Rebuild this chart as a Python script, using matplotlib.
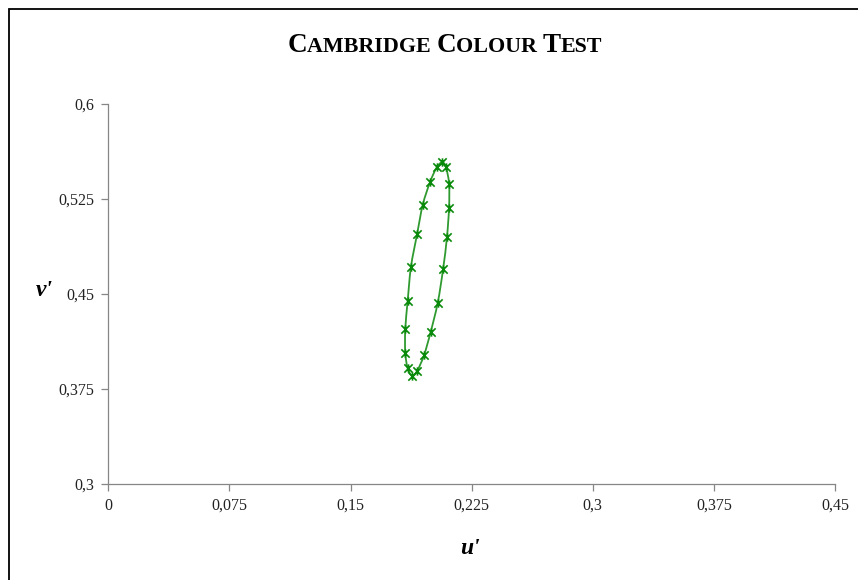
import numpy as np
import matplotlib
matplotlib.use("Agg")
import matplotlib.pyplot as plt
from matplotlib.path import Path
from matplotlib.patches import PathPatch, Rectangle

# chromaticity points of the test ellipse (u', v'), in drawing order
u_vals = [0.1882, 0.1913, 0.1955, 0.1996, 0.2040, 0.2073, 0.2097, 0.2110, 0.2110, 0.2091,
          0.2068, 0.2034, 0.1992, 0.1947, 0.1912, 0.1874, 0.1854, 0.1839, 0.1839, 0.1854]
v_vals = [0.3852, 0.3893, 0.4015, 0.4198, 0.4429, 0.4693, 0.4945, 0.5179, 0.5368, 0.5497,
          0.5536, 0.5497, 0.5379, 0.5200, 0.4969, 0.4711, 0.4445, 0.4220, 0.4035, 0.3912]

x_ticks = [0, 0.075, 0.15, 0.225, 0.3, 0.375, 0.45]
x_labels = ["0", "0,075", "0,15", "0,225", "0,3", "0,375", "0,45"]
y_ticks = [0.3, 0.375, 0.45, 0.525, 0.6]
y_labels = ["0,3", "0,375", "0,45", "0,525", "0,6"]

title_parts = [("C", True), ("AMBRIDGE ", False), ("C", True), ("OLOUR ", False),
               ("T", True), ("EST", False)]

SERIF = "Liberation Serif"
W, H = 858, 580

fig = plt.figure(figsize=(W / 100, H / 100), dpi=100)
fig.patch.set_facecolor("white")

# outer chart frame (runs off the right and bottom edge)
fig.patches.append(Rectangle((9 / W, -0.05), 1.2, (H - 9) / H + 0.05,
                             transform=fig.transFigure, fill=False,
                             edgecolor="black", linewidth=1.3))

ax = fig.add_axes([108.3 / W, (H - 484) / H, (835 - 108.3) / W, (484 - 103.5) / H])
ax.set_xlim(0, 0.45)
ax.set_ylim(0.3, 0.6)
ax.set_facecolor("none")

for side in ("top", "right"):
    ax.spines[side].set_visible(False)
for side in ("left", "bottom"):
    ax.spines[side].set_color("#868686")
    ax.spines[side].set_linewidth(0.9)

ax.set_xticks(x_ticks)
ax.set_xticklabels(x_labels)
ax.set_yticks(y_ticks)
ax.set_yticklabels(y_labels)
ax.tick_params(direction="out", length=5, width=0.9, color="#868686",
               labelsize=11.5, labelcolor="#222222")
ax.tick_params(axis="x", pad=5)
ax.tick_params(axis="y", pad=5)
for lab in ax.get_xticklabels() + ax.get_yticklabels():
    lab.set_fontfamily(SERIF)

# closed smooth curve through the points (cubic Bezier, Catmull-Rom tangents)
pts = np.column_stack([u_vals, v_vals])
n = len(pts)
verts = [pts[0]]
codes = [Path.MOVETO]
for i in range(n):
    p0, p1, p2, p3 = pts[i - 1], pts[i], pts[(i + 1) % n], pts[(i + 2) % n]
    c1 = p1 + (p2 - p0) / 6.0
    c2 = p2 - (p3 - p1) / 6.0
    verts += [c1, c2, p2]
    codes += [Path.CURVE4] * 3
ax.add_patch(PathPatch(Path(verts, codes), fill=False, edgecolor="#2f9a2f",
                       linewidth=1.3, zorder=3))

star = Path([(-1, -1), (1, 1), (-1, 1), (1, -1), (0, -1), (0, 1)],
            [Path.MOVETO, Path.LINETO, Path.MOVETO, Path.LINETO, Path.MOVETO, Path.LINETO])
ax.plot(u_vals, v_vals, linestyle="none", marker=star, markersize=6,
        markeredgecolor="#0a8a0a", markeredgewidth=1.2, zorder=4)

# small-caps title assembled from pieces
renderer = fig.canvas.get_renderer()
big, small = 19.5, 15.8
texts = []
for s, is_big in title_parts:
    t = fig.text(0, 0, s, fontsize=big if is_big else small, fontweight="bold",
                 fontfamily=SERIF, ha="left", va="baseline", transform=None)
    texts.append(t)
widths = [t.get_window_extent(renderer).width for t in texts]
x = 445 - sum(widths) / 2
for t, w in zip(texts, widths):
    t.set_position((x, H - 52))
    x += w

fig.text(470 / W, 1 - 549 / H, "u'", fontsize=17, fontweight="bold", fontstyle="italic",
         fontfamily=SERIF, ha="center", va="center")
fig.text(44 / W, 1 - 291 / H, "v'", fontsize=17, fontweight="bold", fontstyle="italic",
         fontfamily=SERIF, ha="center", va="center")

fig.savefig("out.png", dpi=100)
